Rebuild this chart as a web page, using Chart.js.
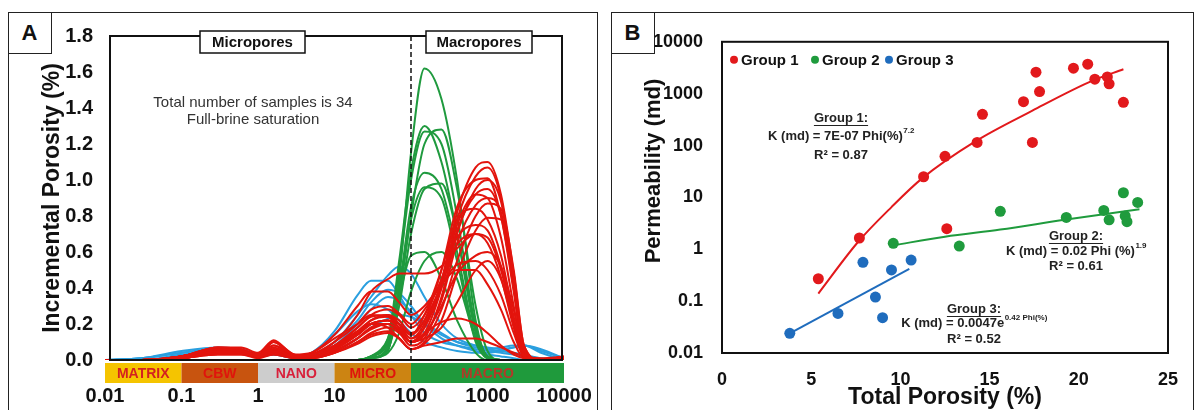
<!DOCTYPE html>
<html>
<head>
<meta charset="utf-8">
<script src="https://cdn.jsdelivr.net/npm/chart.js@4.4.1/dist/chart.umd.min.js"></script>
<style>
  html, body { margin: 0; padding: 0; background: #fff; overflow: hidden; }
  body { width: 1199px; height: 410px; position: relative; font-family: "Liberation Sans", Arial, sans-serif; }
  canvas { position: absolute; }
  #chartA { left: 8px; top: 12px; }
  #chartB { left: 611px; top: 12px; }
  .panel { position: absolute; top: 12px; height: 420px; border: 1.5px solid #222; box-sizing: border-box; pointer-events: none; }
  #panelA { left: 8px; width: 590px; }
  #panelB { left: 611px; width: 583px; }
  .tag { position: absolute; left: -1.5px; top: -1.5px; width: 44px; height: 42px; border: 1.5px solid #222; box-sizing: border-box;
         background: #fff; font: bold 22px "Liberation Sans", Arial, sans-serif; color: #111;
         display: flex; align-items: center; justify-content: center; }
</style>
</head>
<body>
<canvas id="chartA" width="589" height="398"></canvas>
<canvas id="chartB" width="582" height="398"></canvas>
<div class="panel" id="panelA"><div class="tag">A</div></div>
<div class="panel" id="panelB"><div class="tag">B</div></div>
<script>
// ---------- panel A data: incremental porosity vs pore size ----------
const poreSize = [0.01, 0.03, 0.1, 0.3, 0.6, 1, 1.6, 3, 5, 10, 20, 30, 50, 70, 100, 150, 250, 400, 700, 1000, 1500, 2200, 3000, 5000, 10000];

const redCurves = [
  [0,0,0.02,0.06,0.05, 0.03,0.06,0.02,0.02,0.06, 0.14,0.2,0.22,0.18,0.12, 0.18,0.44,0.82,1.07,1.1, 0.92,0.48,0.05,0,0.01],
  [0,0,0.01,0.05,0.05, 0.02,0.05,0.02,0.02,0.05, 0.12,0.17,0.2,0.17,0.1, 0.15,0.4,0.78,1.02,1.07, 0.9,0.45,0.05,0,0.01],
  [0,0,0.02,0.07,0.06, 0.03,0.08,0.03,0.02,0.07, 0.15,0.22,0.25,0.22,0.15, 0.22,0.5,0.85,1.0,1.01, 0.8,0.38,0.03,0,0.02],
  [0,0,0.01,0.04,0.04, 0.02,0.04,0.01,0.01,0.04, 0.1,0.15,0.18,0.15,0.08, 0.12,0.35,0.7,0.95,1.0, 0.88,0.45,0.06,0,0.01],
  [0,0,0.02,0.06,0.05, 0.03,0.1,0.02,0.02,0.05, 0.12,0.18,0.2,0.16,0.1, 0.18,0.4,0.72,0.92,0.95, 0.8,0.4,0.04,0,0.01],
  [0,0,0.02,0.05,0.04, 0.02,0.05,0.02,0.03,0.08, 0.18,0.24,0.25,0.2,0.12, 0.2,0.42,0.75,0.92,0.9, 0.68,0.3,0.02,0,0.01],
  [0,0,0.01,0.04,0.04, 0.02,0.04,0.02,0.02,0.06, 0.14,0.2,0.22,0.18,0.1, 0.14,0.33,0.65,0.86,0.9, 0.82,0.44,0.05,0,0.01],
  [0,0,0.01,0.03,0.03, 0.02,0.03,0.01,0.01,0.04, 0.1,0.14,0.16,0.12,0.06, 0.1,0.28,0.55,0.8,0.87, 0.84,0.5,0.08,0,0.01],
  [0,0,0.02,0.06,0.05, 0.03,0.07,0.02,0.02,0.07, 0.16,0.22,0.24,0.2,0.14, 0.25,0.5,0.78,0.84,0.78, 0.58,0.24,0.02,0,0.01],
  [0,0,0.01,0.03,0.03, 0.01,0.03,0.01,0.01,0.04, 0.09,0.13,0.15,0.12,0.06, 0.09,0.22,0.48,0.72,0.79, 0.78,0.48,0.08,0,0.01],
  [0,0,0.02,0.06,0.05, 0.03,0.06,0.02,0.03,0.08, 0.18,0.25,0.28,0.25,0.18, 0.25,0.45,0.68,0.75,0.72, 0.52,0.22,0.02,0,0.01],
  [0,0,0.02,0.05,0.04, 0.02,0.05,0.02,0.02,0.06, 0.14,0.2,0.22,0.2,0.14, 0.22,0.42,0.64,0.7,0.65, 0.46,0.18,0.02,0,0.01],
  [0,0,0.01,0.04,0.04, 0.02,0.04,0.02,0.02,0.05, 0.12,0.18,0.2,0.16,0.1, 0.14,0.3,0.48,0.58,0.6, 0.52,0.28,0.04,0,0.01],
  [0,0,0.02,0.07,0.06, 0.03,0.08,0.02,0.03,0.1, 0.2,0.28,0.3,0.26,0.2, 0.28,0.42,0.53,0.55,0.5, 0.36,0.15,0.02,0,0.01],
  [0,0,0.01,0.04,0.04, 0.02,0.04,0.02,0.03,0.1, 0.25,0.38,0.45,0.48,0.48, 0.48,0.52,0.62,0.7,0.68, 0.5,0.2,0.02,0,0.01],
  [0,0,0.01,0.05,0.05, 0.03,0.05,0.02,0.04,0.14, 0.3,0.38,0.38,0.32,0.25, 0.3,0.42,0.5,0.5,0.42, 0.28,0.1,0.01,0,0.01],
  [0,0,0.02,0.06,0.05, 0.03,0.06,0.02,0.03,0.08, 0.16,0.2,0.2,0.16,0.1, 0.15,0.21,0.23,0.2,0.15, 0.08,0.03,0.01,0,0.01],
  [0,0,0.01,0.04,0.04, 0.02,0.1,0.03,0.02,0.06, 0.15,0.2,0.18,0.12,0.06, 0.08,0.1,0.12,0.12,0.1, 0.07,0.04,0.02,0.01,0.02],
  [0,0,0.02,0.07,0.07, 0.04,0.11,0.03,0.04,0.12, 0.2,0.25,0.24,0.18,0.1, 0.12,0.18,0.32,0.5,0.55, 0.45,0.2,0.02,0,0.01]
];

const greenCurves = [
  [0,0,0,0,0, 0,0,0,0,0, 0,0.01,0.05,0.45,1.15, 1.62,1.45,1.0,0.22,0.02, 0,0,0,0,0],
  [0,0,0,0,0, 0,0,0,0,0, 0,0.02,0.12,0.55,1.05, 1.3,1.1,0.7,0.15,0.01, 0,0,0,0,0],
  [0,0,0,0,0, 0,0,0,0,0, 0,0.01,0.06,0.35,0.8, 1.2,1.28,0.95,0.3,0.05, 0,0,0,0,0],
  [0,0,0,0,0, 0,0,0,0,0, 0,0.02,0.1,0.5,1.0, 1.27,1.2,0.8,0.18,0.01, 0,0,0,0,0],
  [0,0,0,0,0, 0,0,0,0,0, 0,0.01,0.08,0.4,0.85, 1.04,0.95,0.6,0.12,0.01, 0,0,0,0,0],
  [0,0,0,0,0, 0,0,0,0,0, 0,0.01,0.06,0.3,0.7, 0.95,0.98,0.7,0.18,0.02, 0,0,0,0,0],
  [0,0,0,0,0, 0,0,0,0,0, 0,0.02,0.1,0.38,0.78, 0.96,0.9,0.55,0.1,0.01, 0,0,0,0,0],
  [0,0,0,0,0, 0,0,0,0,0, 0,0.02,0.12,0.35,0.58, 0.6,0.45,0.22,0.04,0, 0,0,0,0,0],
  [0,0,0,0,0, 0,0,0,0,0, 0,0.01,0.04,0.15,0.38, 0.55,0.6,0.45,0.12,0.02, 0,0,0,0,0]
];

const blueCurves = [
  [0,0.01,0.04,0.06,0.06, 0.03,0.04,0.02,0.03,0.1, 0.25,0.35,0.47,0.52,0.48, 0.35,0.2,0.12,0.08,0.06, 0.05,0.04,0.03,0.01,0],
  [0,0.01,0.05,0.07,0.06, 0.03,0.04,0.02,0.04,0.16, 0.36,0.44,0.44,0.36,0.25, 0.15,0.1,0.08,0.06,0.05, 0.04,0.03,0.02,0.01,0],
  [0,0,0.03,0.05,0.05, 0.03,0.03,0.02,0.03,0.1, 0.22,0.32,0.39,0.37,0.3, 0.2,0.12,0.08,0.05,0.03, 0.02,0.01,0,0,0],
  [0,0,0.02,0.04,0.04, 0.02,0.03,0.01,0.02,0.08, 0.2,0.28,0.35,0.33,0.27, 0.2,0.14,0.1,0.07,0.06, 0.07,0.08,0.08,0.04,0],
  [0,0.01,0.04,0.06,0.05, 0.03,0.04,0.02,0.04,0.14, 0.27,0.31,0.28,0.22,0.15, 0.1,0.07,0.05,0.04,0.04, 0.05,0.07,0.08,0.06,0.01],
  [0,0,0.02,0.04,0.04, 0.02,0.03,0.01,0.02,0.05, 0.12,0.18,0.23,0.25,0.24, 0.2,0.15,0.1,0.08,0.07, 0.06,0.07,0.08,0.05,0.01]
];

const xTicksA = [0.01, 0.1, 1, 10, 100, 1000, 10000];
const bandEdges = [0.01, 0.1, 1, 10, 100, 10000];
const bandNames = ['MATRIX', 'CBW', 'NANO', 'MICRO', 'MACRO'];

// ---------- panel B data: permeability vs total porosity ----------
const group1Phi = [5.4, 7.7, 11.3, 12.5, 12.6, 14.3, 14.6, 16.9, 17.4, 17.6, 17.8, 19.7, 20.5, 20.9, 21.6, 21.7, 22.5];
const group1K   = [0.27, 1.65, 25, 62, 2.5, 115, 400, 700, 115, 2600, 1100, 3100, 3700, 1900, 2100, 1550, 680];
const group2Phi = [9.6, 13.3, 15.6, 19.3, 21.4, 21.7, 22.5, 22.6, 22.7, 23.3];
const group2K   = [1.3, 1.15, 5.4, 4.1, 5.6, 3.7, 12.3, 4.4, 3.4, 8.0];
const group3Phi = [3.8, 6.5, 7.9, 8.6, 9.0, 9.5, 10.6];
const group3K   = [0.024, 0.058, 0.56, 0.12, 0.048, 0.40, 0.62];

// fitted trend lines as drawn in the figure
const trend1Phi = [5.4, 7.6, 9.5, 11.2, 14.2, 17.4, 20.8, 22.5];
const trend1K   = [0.14, 1.35, 6.5, 23, 120, 470, 1800, 2950];
const trend2Phi = [9.6, 12.5, 15.6, 19.2, 23.4];
const trend2K   = [1.19, 1.75, 2.4, 3.7, 5.9];
const trend3Phi = [3.8, 10.5];
const trend3K   = [0.024, 0.42];

const yTicksB = [0.01, 0.1, 1, 10, 100, 1000, 10000];

// ---------------------------------------------------------------------
const FONT = '"Liberation Sans", Arial, sans-serif';
Chart.defaults.font.family = FONT;
Chart.defaults.color = '#111';

const RED = '#e3140d', GREEN = '#1f9a3e', BLUE_A = '#2a9fdf';
const RED_B = '#e2191c', GREEN_B = '#1f9b3d', BLUE_B = '#1f6cbd';

// keep tick-label overhang from eating into the plot width
const noEdgePad = s => { s.paddingLeft = 0; s.paddingRight = 0; };

function curve(vals, color) {
  return {
    data: vals.map((v, i) => ({ x: poreSize[i], y: v })),
    borderColor: color,
    borderWidth: 2,
    pointRadius: 0,
    cubicInterpolationMode: 'monotone',
    fill: false
  };
}

const dsA = [].concat(
  redCurves.map(c => curve(c, RED)),
  greenCurves.map(c => curve(c, GREEN)),
  blueCurves.map(c => curve(c, BLUE_A))
);

const bandFill = ['#f5c400', '#c8540f', '#cdcdcd', '#cc8412', '#1f9a3c'];
const bandText = ['#d42020', '#e0140c', '#d8203a', '#e0140c', '#b23a28'];

const panelAExtras = {
  id: 'panelAExtras',
  afterDraw(chart) {
    const { ctx, chartArea: a, scales: { x } } = chart;
    ctx.save();
    // dashed line at 100 (micro / macro boundary)
    const xd = x.getPixelForValue(100);
    ctx.strokeStyle = '#111';
    ctx.lineWidth = 1.5;
    ctx.setLineDash([5, 3]);
    ctx.beginPath(); ctx.moveTo(xd, a.top); ctx.lineTo(xd, a.bottom); ctx.stroke();
    ctx.setLineDash([]);
    // plot frame
    ctx.lineWidth = 2;
    ctx.strokeRect(a.left + 5, a.top, a.right - a.left - 7, a.bottom - a.top);
    // pore type band
    const y0 = a.bottom + 3, h = 20;
    ctx.font = 'bold 14px ' + FONT;
    ctx.textAlign = 'center';
    ctx.textBaseline = 'middle';
    for (let i = 0; i < bandNames.length; i++) {
      const x0 = x.getPixelForValue(bandEdges[i]);
      const x1 = x.getPixelForValue(bandEdges[i + 1]);
      ctx.fillStyle = bandFill[i];
      ctx.fillRect(x0, y0, x1 - x0, h);
      ctx.fillStyle = bandText[i];
      ctx.fillText(bandNames[i], (x0 + x1) / 2, y0 + h / 2 + 1);
    }
    // header boxes
    ctx.font = 'bold 15px ' + FONT;
    [['Micropores', 192, 297], ['Macropores', 418, 524]].forEach(([t, l, r]) => {
      ctx.fillStyle = '#fff';
      ctx.fillRect(l, 19, r - l, 22);
      ctx.strokeStyle = '#111';
      ctx.lineWidth = 1.5;
      ctx.strokeRect(l, 19, r - l, 22);
      ctx.fillStyle = '#111';
      ctx.fillText(t, (l + r) / 2, 30.5);
    });
    // note
    ctx.font = '15px ' + FONT;
    ctx.fillStyle = '#333';
    ctx.fillText('Total number of samples is 34', 245, 91);
    ctx.fillText('Full-brine saturation', 245, 108);
    ctx.restore();
  }
};

new Chart(document.getElementById('chartA'), {
  type: 'line',
  data: { datasets: dsA },
  options: {
    responsive: false,
    animation: false,
    events: [],
    layout: { padding: { top: 23, right: 33, left: 0, bottom: 0 } },
    plugins: { legend: { display: false }, tooltip: { enabled: false } },
    scales: {
      x: {
        type: 'logarithmic',
        min: 0.01,
        max: 10000,
        afterBuildTicks: s => { s.ticks = xTicksA.map(v => ({ value: v })); },
        afterFit: s => { s.height = 50; noEdgePad(s); },
        grid: { display: false, drawTicks: false },
        border: { display: false },
        ticks: {
          autoSkip: false, maxRotation: 0, padding: 24,
          font: { size: 20, weight: 'bold' },
          callback: v => String(v)
        }
      },
      y: {
        min: 0,
        max: 1.8,
        afterFit: s => { s.width = 97; },
        grid: { display: false, drawTicks: false },
        border: { display: false },
        ticks: {
          stepSize: 0.2, padding: 12,
          font: { size: 20, weight: 'bold' },
          callback: v => v.toFixed(1)
        },
        title: {
          display: true,
          text: 'Incremental Porosity (%)',
          font: { size: 23, weight: 'bold' },
          padding: { top: 31, bottom: 0 }
        }
      }
    }
  },
  plugins: [panelAExtras]
});

// ---------------------------------------------------------------------
function pts(xs, ys) { return xs.map((v, i) => ({ x: v, y: ys[i] })); }

function eqLine(ctx, cx, y, main, sup, size) {
  ctx.font = 'bold ' + size + 'px ' + FONT;
  const w1 = ctx.measureText(main).width;
  ctx.font = 'bold ' + Math.round(size * 0.62) + 'px ' + FONT;
  const w2 = ctx.measureText(sup).width;
  const x0 = cx - (w1 + w2) / 2;
  ctx.textAlign = 'left';
  ctx.font = 'bold ' + size + 'px ' + FONT;
  ctx.fillText(main, x0, y);
  ctx.font = 'bold ' + Math.round(size * 0.62) + 'px ' + FONT;
  ctx.fillText(sup, x0 + w1 + 0.5, y - size * 0.38);
}

function groupNote(ctx, cx, ys, title, main, sup, r2) {
  const size = 13;
  ctx.fillStyle = '#222';
  ctx.strokeStyle = '#222';
  ctx.textBaseline = 'middle';
  ctx.textAlign = 'center';
  ctx.font = 'bold ' + size + 'px ' + FONT;
  ctx.fillText(title, cx, ys[0]);
  const w = ctx.measureText(title).width;
  ctx.lineWidth = 1;
  ctx.beginPath();
  ctx.moveTo(cx - w / 2, ys[0] + 7.5); ctx.lineTo(cx + w / 2, ys[0] + 7.5);
  ctx.stroke();
  eqLine(ctx, cx, ys[1], main, sup, size);
  ctx.textAlign = 'center';
  ctx.font = 'bold ' + size + 'px ' + FONT;
  ctx.fillText(r2, cx, ys[2]);
}

// legend row inside the plot, top-left
const legendDotX = [12, 93, 167];

const panelBExtras = {
  id: 'panelBExtras',
  afterDraw(chart) {
    const { ctx, chartArea: a } = chart;
    ctx.save();
    ctx.strokeStyle = '#111';
    ctx.lineWidth = 2;
    ctx.strokeRect(a.left, a.top, a.right - a.left, a.bottom - a.top);

    // y axis title, set a little above the axis middle as in the figure
    ctx.save();
    ctx.translate(43, 159);
    ctx.rotate(-Math.PI / 2);
    ctx.font = 'bold 22px ' + FONT;
    ctx.fillStyle = '#111';
    ctx.textAlign = 'center';
    ctx.textBaseline = 'middle';
    ctx.fillText('Permeability (md)', 0, 0);
    ctx.restore();

    ctx.font = 'bold 15px ' + FONT;
    ctx.textAlign = 'left';
    ctx.textBaseline = 'middle';
    chart.data.datasets.slice(0, 3).forEach((d, i) => {
      const cx = a.left + legendDotX[i], cy = a.top + 18;
      ctx.fillStyle = d.backgroundColor;
      ctx.beginPath(); ctx.arc(cx, cy, 4, 0, Math.PI * 2); ctx.fill();
      ctx.fillStyle = '#111';
      ctx.fillText(d.label, cx + 7, cy + 1);
    });

    groupNote(ctx, 230, [106, 124, 143], 'Group 1:', 'K (md) = 7E-07 Phi(%)', '7.2', 'R\u00B2 = 0.87');
    groupNote(ctx, 465, [224, 239, 254], 'Group 2:', 'K (md) = 0.02 Phi (%)', '1.9', 'R\u00B2 = 0.61');
    groupNote(ctx, 363, [297, 311, 327], 'Group 3:', 'K (md) = 0.0047e', '0.42 Phi(%)', 'R\u00B2 = 0.52');
    ctx.restore();
  }
};

function scatterSet(label, xs, ys, color) {
  return {
    type: 'scatter', label, data: pts(xs, ys),
    backgroundColor: color, borderColor: color, borderWidth: 0,
    pointRadius: 5.5, pointStyle: 'circle'
  };
}
function trendSet(xs, ys, color) {
  return {
    type: 'line', label: 'trend', data: pts(xs, ys),
    borderColor: color, borderWidth: 2, pointRadius: 0,
    cubicInterpolationMode: 'monotone', fill: false
  };
}

new Chart(document.getElementById('chartB'), {
  type: 'scatter',
  data: {
    datasets: [
      scatterSet('Group 1', group1Phi, group1K, RED_B),
      scatterSet('Group 2', group2Phi, group2K, GREEN_B),
      scatterSet('Group 3', group3Phi, group3K, BLUE_B),
      trendSet(trend1Phi, trend1K, RED_B),
      trendSet(trend2Phi, trend2K, GREEN_B),
      trendSet(trend3Phi, trend3K, BLUE_B)
    ]
  },
  options: {
    responsive: false,
    animation: false,
    events: [],
    layout: { padding: { top: 23, right: 25, left: 0, bottom: 0 } },
    plugins: { tooltip: { enabled: false }, legend: { display: false } },
    scales: {
      x: {
        type: 'linear',
        min: 0,
        max: 25,
        afterFit: s => { s.height = 57; noEdgePad(s); },
        grid: { display: false, drawTicks: false },
        border: { display: false },
        ticks: { stepSize: 5, padding: 16, font: { size: 18, weight: 'bold' } },
        title: {
          display: true,
          text: 'Total Porosity (%)',
          font: { size: 23, weight: 'bold', lineHeight: 1 },
          padding: { top: 0, bottom: 0.5 }
        }
      },
      y: {
        type: 'logarithmic',
        min: 0.01,
        max: 10000,
        afterBuildTicks: s => { s.ticks = yTicksB.map(v => ({ value: v })); },
        afterFit: s => { s.width = 111; },
        grid: { display: false, drawTicks: false },
        border: { display: false },
        ticks: { padding: 19, font: { size: 18, weight: 'bold' }, callback: v => String(v) }
      }
    }
  },
  plugins: [panelBExtras]
});
</script>
</body>
</html>
